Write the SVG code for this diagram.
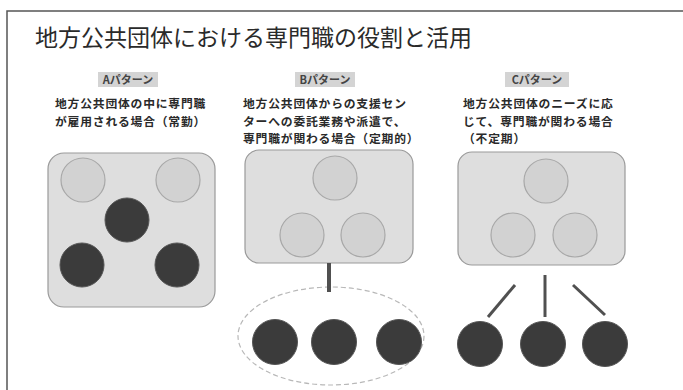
<svg xmlns="http://www.w3.org/2000/svg" width="683" height="390" viewBox="0 0 683 390">
<style>
text{font-family:"Noto Sans CJK JP","Noto Sans CJK SC",sans-serif;fill:#2a2a2a}
.title{font-size:23px;font-weight:400}
.tag{font-size:11px;font-weight:700;fill:#444;text-anchor:middle}
.tagbg{fill:#d4d4d4}
.desc{font-size:11.8px;font-weight:700;letter-spacing:0.8px}
.box{fill:#dedede;stroke:#9a9a9a;stroke-width:1.2}
.light{fill:#d2d2d2;stroke:#a8a8a8;stroke-width:1.2}
.dark{fill:#3b3b3b;stroke:#555;stroke-width:1}
.conn{stroke:#505050;fill:none}
.grp{fill:none;stroke:#b8b8b8;stroke-width:1.2;stroke-dasharray:5 3}
</style>
<rect width="683" height="390" fill="#ffffff"/>
<path d="M7 390 V11 H683" fill="none" stroke="#555" stroke-width="1.5"/>
<text class="title" x="35" y="46">地方公共団体における専門職の役割と活用</text>

<g id="patternA">
<rect class="tagbg" x="98" y="72" width="60" height="15"/>
<text class="tag" x="128" y="84">Aパターン</text>
<text class="desc" x="55" y="108">地方公共団体の中に専門職</text>
<text class="desc" x="55" y="125.5">が雇用される場合（常勤）</text>
<rect class="box" x="48" y="153" width="167" height="154" rx="16"/>
<circle class="light" cx="83" cy="180" r="22"/>
<circle class="light" cx="178" cy="180" r="22"/>
<circle class="dark" cx="127" cy="220" r="22"/>
<circle class="dark" cx="82" cy="265" r="22"/>
<circle class="dark" cx="177" cy="265" r="22"/>
</g>

<g id="patternB">
<rect class="tagbg" x="295" y="72" width="60" height="15"/>
<text class="tag" x="325" y="84">Bパターン</text>
<text class="desc" x="243" y="108">地方公共団体からの支援セン</text>
<text class="desc" x="243" y="125.5">ターへの委託業務や派遣で、</text>
<text class="desc" x="243" y="143">専門職が関わる場合（定期的）</text>
<rect class="box" x="245" y="150" width="168" height="113" rx="14"/>
<circle class="light" cx="335" cy="178" r="22"/>
<circle class="light" cx="302" cy="235" r="22"/>
<circle class="light" cx="363" cy="235" r="22"/>
</g>

<g id="patternBexternal">
<ellipse class="grp" cx="331" cy="336" rx="93" ry="49"/>
<circle class="dark" cx="275" cy="342" r="22.5"/>
<circle class="dark" cx="334" cy="342" r="22.5"/>
<circle class="dark" cx="399" cy="342" r="22.5"/>
</g>

<g id="patternC">
<rect class="tagbg" x="505" y="72" width="64" height="15"/>
<text class="tag" x="537" y="84">Cパターン</text>
<text class="desc" x="463" y="108">地方公共団体のニーズに応</text>
<text class="desc" x="463" y="125.5">じて、専門職が関わる場合</text>
<text class="desc" x="463" y="143">（不定期）</text>
<rect class="box" x="458" y="152" width="167" height="113" rx="14"/>
<circle class="light" cx="546" cy="181" r="22"/>
<circle class="light" cx="513" cy="235" r="22"/>
<circle class="light" cx="575" cy="235" r="22"/>
</g>

<g id="patternCexternal">
<circle class="dark" cx="480" cy="344" r="22.5"/>
<circle class="dark" cx="543" cy="344" r="22.5"/>
<circle class="dark" cx="605" cy="344" r="22.5"/>
</g>

<g id="connectors">
<line class="conn" x1="329" y1="263" x2="329" y2="292" stroke-width="4"/>
<line class="conn" x1="515" y1="285" x2="488" y2="317" stroke-width="3"/>
<line class="conn" x1="545" y1="275" x2="545" y2="317" stroke-width="3"/>
<line class="conn" x1="573" y1="285" x2="605" y2="315" stroke-width="3"/>
</g>
</svg>
